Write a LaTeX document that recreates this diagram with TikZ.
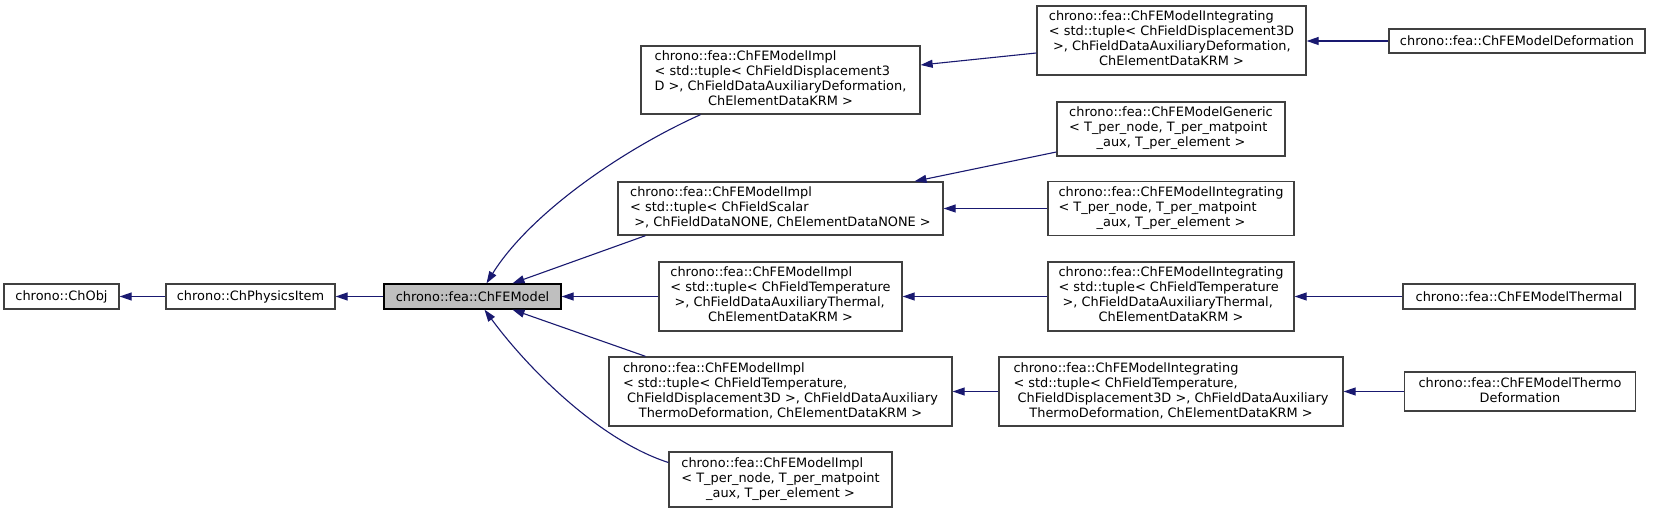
\documentclass[tikz,border=0pt]{standalone}
\usepackage{fontspec}
\setmainfont{DejaVu Sans}
\usetikzlibrary{arrows.meta,calc}
\definecolor{edgeblue}{RGB}{25,25,112}
\definecolor{boxgray}{RGB}{64,64,64}
\definecolor{curgray}{RGB}{191,191,191}
% last line of a label is centred, the others are left-justified
\newcommand{\lastln}[1]{\multicolumn{1}{@{}c@{}}{#1}}

\begin{document}
\begin{tikzpicture}[
        x=1bp, y=-1bp,
        cls/.style={rectangle, draw=boxgray, line width=1.3bp, fill=white, inner sep=0pt, font=\fontsize{12.9bp}{15bp}\selectfont},
        current/.style={cls, draw=black, fill=curgray},
        oneline/.style={minimum height=25bp},
        inherit/.style={draw=edgeblue, line width=1.1bp, -{Triangle[length=12bp, width=8bp]}}
    ]
    \path[use as bounding box, fill=white] (0,0) rectangle (1655,513);

    % Base classes
    \node[cls, oneline, minimum width=115bp] (chobj) at (61.5,296.5) {chrono::ChObj};
    \node[cls, oneline, minimum width=169bp] (physitem) at (250.5,296.5) {chrono::ChPhysicsItem};
    \node[current, oneline, minimum width=177bp] (femodel) at (472.5,296.5) {chrono::fea::ChFEModel};

    % ChFEModelImpl specialisations
    \node[cls, minimum width=279bp, minimum height=68bp] (impl1) at (780.5,80) {\begin{tabular}{@{}l@{}}chrono::fea::ChFEModelImpl\\ < std::tuple< ChFieldDisplacement3\\ D >, ChFieldDataAuxiliaryDeformation,\\ \lastln{ChElementDataKRM >}\end{tabular}};
    \node[cls, minimum width=325bp, minimum height=53bp] (impl2) at (780.5,208.5) {\begin{tabular}{@{}l@{}}chrono::fea::ChFEModelImpl\\ < std::tuple< ChFieldScalar\\ \lastln{\ >, ChFieldDataNONE, ChElementDataNONE >}\end{tabular}};
    \node[cls, minimum width=243bp, minimum height=69bp] (impl3) at (780.5,296.5) {\begin{tabular}{@{}l@{}}chrono::fea::ChFEModelImpl\\ < std::tuple< ChFieldTemperature\\ \ >, ChFieldDataAuxiliaryThermal,\\ \lastln{ChElementDataKRM >}\end{tabular}};
    \node[cls, minimum width=343bp, minimum height=69bp] (impl4) at (780.5,391.5) {\begin{tabular}{@{}l@{}}chrono::fea::ChFEModelImpl\\ < std::tuple< ChFieldTemperature,\\ \ ChFieldDisplacement3D >, ChFieldDataAuxiliary\\ \lastln{ThermoDeformation, ChElementDataKRM >}\end{tabular}};
    \node[cls, minimum width=223bp, minimum height=55bp] (impl5) at (780.5,479.5) {\begin{tabular}{@{}l@{}}chrono::fea::ChFEModelImpl\\ < T\_per\_node, T\_per\_matpoint\\ \lastln{\_aux, T\_per\_element >}\end{tabular}};

    % Second level
    \node[cls, minimum width=269bp, minimum height=69bp] (intdisp) at (1171.5,40.5) {\begin{tabular}{@{}l@{}}chrono::fea::ChFEModelIntegrating\\ < std::tuple< ChFieldDisplacement3D\\ \ >, ChFieldDataAuxiliaryDeformation,\\ \lastln{ChElementDataKRM >}\end{tabular}};
    \node[cls, minimum width=228bp, minimum height=54bp] (generic) at (1171,129) {\begin{tabular}{@{}l@{}}chrono::fea::ChFEModelGeneric\\ < T\_per\_node, T\_per\_matpoint\\ \lastln{\_aux, T\_per\_element >}\end{tabular}};
    \node[cls, minimum width=246bp, minimum height=54bp] (inttpn) at (1171,208.5) {\begin{tabular}{@{}l@{}}chrono::fea::ChFEModelIntegrating\\ < T\_per\_node, T\_per\_matpoint\\ \lastln{\_aux, T\_per\_element >}\end{tabular}};
    \node[cls, minimum width=246bp, minimum height=69bp] (inttemp) at (1171,296.5) {\begin{tabular}{@{}l@{}}chrono::fea::ChFEModelIntegrating\\ < std::tuple< ChFieldTemperature\\ \ >, ChFieldDataAuxiliaryThermal,\\ \lastln{ChElementDataKRM >}\end{tabular}};
    \node[cls, minimum width=344bp, minimum height=69bp] (inttempdisp) at (1171,391.5) {\begin{tabular}{@{}l@{}}chrono::fea::ChFEModelIntegrating\\ < std::tuple< ChFieldTemperature,\\ \ ChFieldDisplacement3D >, ChFieldDataAuxiliary\\ \lastln{ThermoDeformation, ChElementDataKRM >}\end{tabular}};

    % Leaf classes
    \node[cls, minimum width=256bp, minimum height=24bp] (deform) at (1517,41) {chrono::fea::ChFEModelDeformation};
    \node[cls, oneline, minimum width=232bp] (thermal) at (1519,296.5) {chrono::fea::ChFEModelThermal};
    \node[cls, minimum width=231bp, minimum height=39bp] (thermodef) at (1520,391.5) {\begin{tabular}{@{}c@{}}chrono::fea::ChFEModelThermo\\ Deformation\end{tabular}};

    % Inheritance arrows
    \draw[inherit] (physitem) -- (chobj);
    \draw[inherit] (femodel) -- (physitem);
    \draw[inherit] ($(impl1.south)+(-80,0)$) .. controls +(-80,36) and +(43,-69) .. ($(femodel.north)+(14,0)$);
    \draw[inherit] ($(impl2.south)+(-135,0)$) -- ($(femodel.north)+(40,0)$);
    \draw[inherit] (impl3) -- (femodel);
    \draw[inherit] ($(impl4.north)+(-135,0)$) -- ($(femodel.south)+(40,0)$);
    \draw[inherit] ($(impl5.west)+(0,-17)$) .. controls +(-68,-22) and +(45,61) .. ($(femodel.south)+(12,0)$);

    \draw[inherit] ($(intdisp.west)+(0,12.5)$) -- ($(impl1.east)+(0,-15)$);
    \draw[inherit] ($(generic.west)+(0,23)$) -- ($(impl2.north)+(134,0)$);
    \draw[inherit] (inttpn) -- (impl2);
    \draw[inherit] (inttemp) -- (impl3);
    \draw[inherit] (inttempdisp) -- (impl4);

    \draw[inherit] (deform.west) -- (deform.west -| intdisp.east);
    \draw[inherit] (thermal) -- (inttemp);
    \draw[inherit] (thermodef) -- (inttempdisp);

\end{tikzpicture}
\end{document}
